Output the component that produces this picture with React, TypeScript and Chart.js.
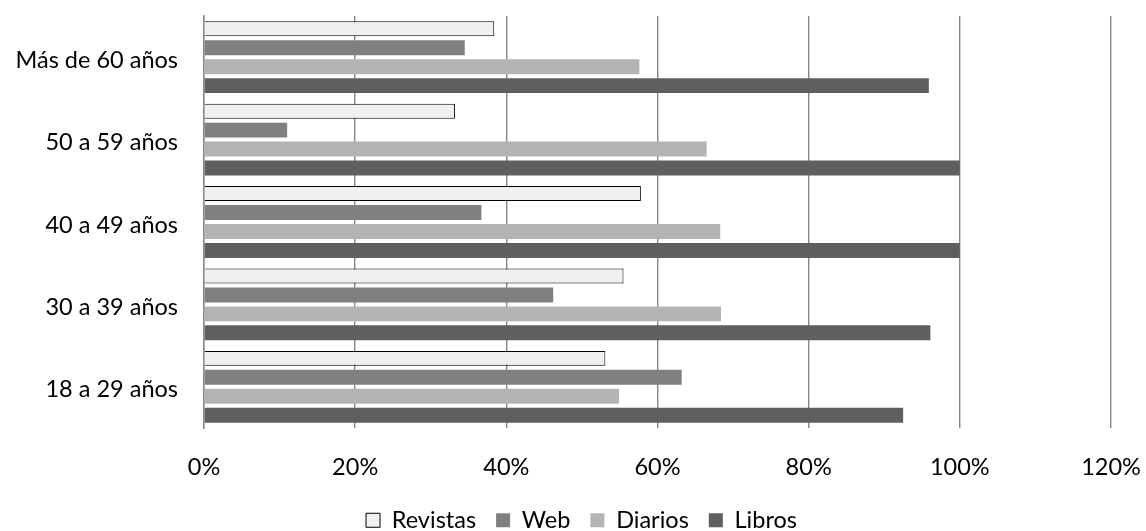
import React, { useEffect, useRef } from "react";
import { Chart, registerables } from "chart.js";

Chart.register(...registerables);

const categories = ["Más de 60 años", "50 a 59 años", "40 a 49 años", "30 a 39 años", "18 a 29 años"];
const revistas = [38.4, 33.2, 57.8, 55.5, 53.1];
const web = [34.5, 11.0, 36.7, 46.2, 63.2];
const diarios = [57.6, 66.5, 68.3, 68.4, 54.9];
const libros = [95.9, 100, 100, 96.1, 92.5];
const xTicks = [0, 20, 40, 60, 80, 100, 120];

const FONT = "Lato, 'Open Sans', sans-serif";
const FS = 23.5;

const shiftLegend = {
  id: "shiftLegend",
  afterLayout(chart: any) {
    const lg = chart.legend;
    if (lg) {
      lg.top += 11;
      lg.bottom += 11;
      lg.left += 26;
      lg.right += 26;
    }
  },
};

export default function App() {
  const ref = useRef<HTMLCanvasElement | null>(null);
  useEffect(() => {
    if (!ref.current) return;
    const common = { categoryPercentage: 0.92, barPercentage: 0.79 };
    const chart = new Chart(ref.current, {
      type: "bar",
      data: {
        labels: categories,
        datasets: [
          { label: "Revistas", data: revistas, backgroundColor: "#f0f0f0", borderColor: "#000000", borderWidth: 1, ...common },
          { label: "Web", data: web, backgroundColor: "#808080", borderWidth: 0, ...common },
          { label: "Diarios", data: diarios, backgroundColor: "#b3b3b3", borderWidth: 0, ...common },
          { label: "Libros", data: libros, backgroundColor: "#5f5f5f", borderWidth: 0, ...common },
        ],
      },
      plugins: [shiftLegend],
      options: {
        indexAxis: "y",
        responsive: false,
        animation: false,
        layout: { padding: { top: 16, right: 35, left: 0, bottom: 0 } },
        plugins: {
          tooltip: { enabled: false },
          legend: {
            position: "bottom",
            labels: {
              boxWidth: 14,
              boxHeight: 14,
              padding: 20,
              color: "#000",
              font: { family: FONT, size: FS },
            },
          },
        },
        scales: {
          x: {
            min: 0,
            max: 120,
            afterBuildTicks: (s: any) => {
              s.ticks = xTicks.map((v) => ({ value: v }));
            },
            afterFit: (s: any) => {
              const lh = s.chart.legend ? s.chart.legend.height : 40;
              s.height = 531 - 428 - lh;
              s.paddingLeft = 0;
              s.paddingRight = 0;
            },
            grid: { color: "#868686", lineWidth: 1.4, drawTicks: false },
            border: { display: false },
            ticks: {
              padding: 25,
              color: "#000",
              font: { family: FONT, size: FS },
              callback: (v: any) => v + "%",
            },
          },
          y: {
            afterFit: (s: any) => {
              s.width = 204;
              s.paddingTop = 0;
              s.paddingBottom = 0;
            },
            grid: { display: false, drawTicks: false },
            border: { display: true, color: "#868686", width: 1.4 },
            ticks: {
              padding: 26,
              labelOffset: 3,
              color: "#000",
              font: { family: FONT, size: FS },
            },
          },
        },
      },
    });
    return () => chart.destroy();
  }, []);
  return (
    <div style={{ position: "absolute", left: 0, top: 0, width: 1146, height: 531, background: "#fff" }}>
      <canvas ref={ref} width={1146} height={531} style={{ width: 1146, height: 531, display: "block" }} />
    </div>
  );
}
